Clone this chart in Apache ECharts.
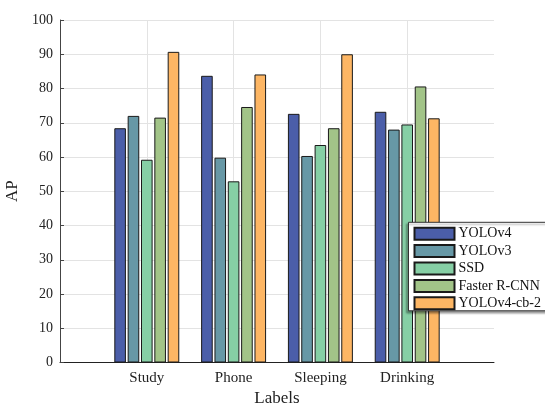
<!DOCTYPE html>
<html>
<head>
<meta charset="utf-8">
<script src="https://cdn.jsdelivr.net/npm/echarts@6/dist/echarts.min.js"></script>
<style>html,body{margin:0;padding:0;background:#fff}#c{width:545px;height:406px}</style>
</head>
<body>
<div id="c"></div>
<script>
const categories = ['Study', 'Phone', 'Sleeping', 'Drinking'];
const seriesNames = ['YOLOv4', 'YOLOv3', 'SSD', 'Faster R-CNN', 'YOLOv4-cb-2'];
const yolov4 = [68.4, 83.7, 72.6, 73.2];
const yolov3 = [72.0, 59.8, 60.3, 68.0];
const ssd = [59.2, 52.9, 63.5, 69.5];
const fasterRcnn = [71.5, 74.6, 68.4, 80.6];
const yolov4cb2 = [90.7, 84.1, 90.0, 71.3];
const yTicks = [0, 10, 20, 30, 40, 50, 60, 70, 80, 90, 100];

const colors = ['#4b5ea9', '#6798a6', '#86cfa5', '#a2c488', '#fdb664'];
const allValues = [yolov4, yolov3, ssd, fasterRcnn, yolov4cb2];
const xCats = [''].concat(categories, ['']);
const font = 'Liberation Serif';

const chart = echarts.init(document.getElementById('c'));
chart.setOption({
  animation: false,
  backgroundColor: '#fff',
  grid: { left: 60, right: 51, top: 20, bottom: 43.5, containLabel: false, outerBoundsMode: 'none' },
  legend: {
    orient: 'vertical',
    left: 408.5, top: 222.3,
    data: seriesNames,
    itemWidth: 40, itemHeight: 12, itemGap: 3.4,
    padding: [4.4, 10, 0.5, 5],
    backgroundColor: '#fff',
    borderColor: '#333', borderWidth: 1,
    shadowColor: 'rgba(0,0,0,0.35)', shadowBlur: 2, shadowOffsetX: -2, shadowOffsetY: 2,
    icon: 'rect',
    textStyle: { fontFamily: font, fontSize: 14, color: '#111', padding: [0, 0, 0, -1] }
  },
  xAxis: {
    type: 'category',
    data: xCats,
    boundaryGap: false,
    name: 'Labels',
    nameLocation: 'middle',
    nameGap: 25.5,
    nameTextStyle: { fontFamily: font, fontSize: 17, color: '#222' },
    axisLine: { lineStyle: { color: '#222', width: 1 } },
    axisTick: { show: false },
    axisLabel: { fontFamily: font, fontSize: 15, color: '#222', margin: 8, interval: 0 },
    splitLine: {
      show: true,
      interval: function (i) { return i >= 1 && i <= 4; },
      lineStyle: { color: '#e3e3e3', width: 1 }
    }
  },
  yAxis: {
    type: 'value',
    min: 0, max: 100, interval: 10,
    name: 'AP',
    nameLocation: 'middle',
    nameGap: 34,
    nameTextStyle: { fontFamily: font, fontSize: 17, color: '#222' },
    axisLine: { show: true, lineStyle: { color: '#444', width: 1 } },
    axisTick: { show: true, inside: true, length: 4, lineStyle: { color: '#444' } },
    axisLabel: { fontFamily: font, fontSize: 14, color: '#222', margin: 7,
      formatter: function (v) { return yTicks.indexOf(v) >= 0 ? String(v) : ''; } },
    splitLine: { show: true, lineStyle: { color: '#e3e3e3', width: 1 } }
  },
  series: seriesNames.map(function (name, k) {
    return {
      name: name,
      type: 'bar',
      barWidth: 11.6,
      barGap: '15%',
      data: [null].concat(allValues[k], [null]),
      itemStyle: { color: colors[k], borderColor: '#1a1a1a', borderWidth: 1 }
    };
  })
});
</script>
</body>
</html>
